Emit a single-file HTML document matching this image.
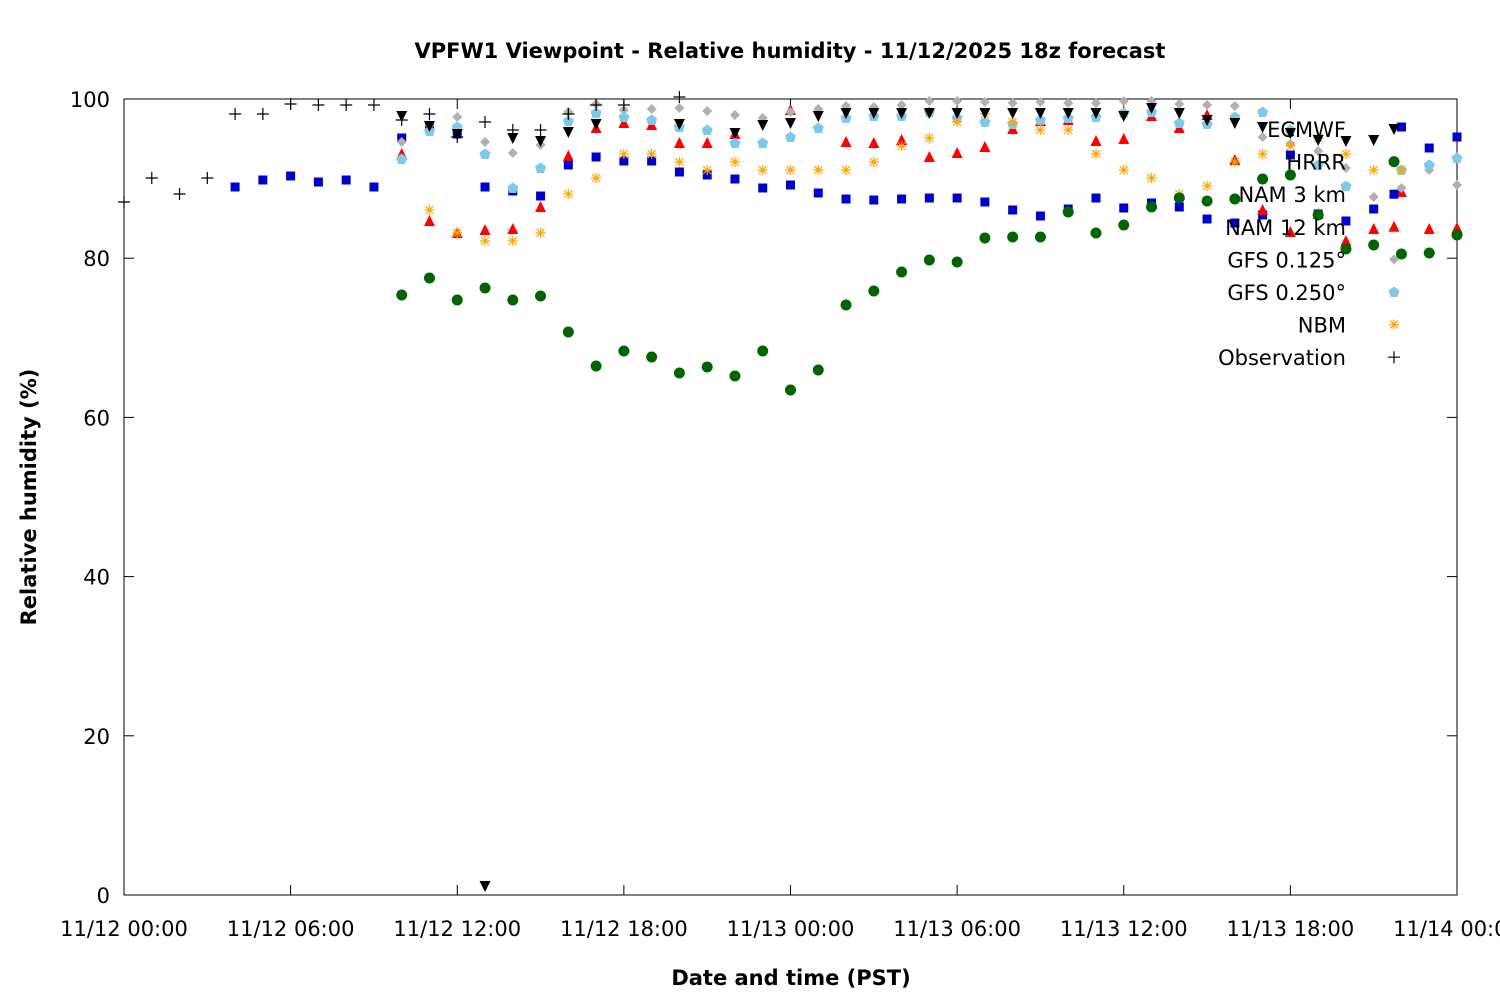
<!DOCTYPE html>
<html><head><meta charset="utf-8"><style>body{margin:0;background:#fff}svg{display:block}text{font-family:"DejaVu Sans","Liberation Sans",sans-serif}</style></head>
<body><svg id="s" width="1500" height="1000" xmlns="http://www.w3.org/2000/svg">
<text x="790" y="58" font-size="21" font-weight="bold" text-anchor="middle">VPFW1 Viewpoint - Relative humidity - 11/12/2025 18z forecast</text>
<text x="791" y="985" font-size="21" font-weight="bold" text-anchor="middle">Date and time (PST)</text>
<text transform="translate(36,497) rotate(-90)" font-size="21" font-weight="bold" text-anchor="middle">Relative humidity (%)</text>
<rect x="124" y="99" width="1333" height="796" fill="none" stroke="#000" stroke-width="1"/>
<g id="g"></g>
</svg>
<script>
var g=document.getElementById('g'),h='';
function X(i){return 124+i*1333/48}
for(var v=0;v<=100;v+=20){var y=895-v*7.96;h+='<line x1="124" x2="134" y1="'+y+'" y2="'+y+'" stroke="#000"/><line x1="1447" x2="1457" y1="'+y+'" y2="'+y+'" stroke="#000"/><text x="110" y="'+(y+8)+'" font-size="21" text-anchor="end">'+v+'</text>';}
var labs=['11/12 00:00','11/12 06:00','11/12 12:00','11/12 18:00','11/13 00:00','11/13 06:00','11/13 12:00','11/13 18:00','11/14 00:00'];
for(var k=0;k<9;k++){var x=X(k*6);h+='<line x1="'+x+'" x2="'+x+'" y1="895" y2="885" stroke="#000"/><line x1="'+x+'" x2="'+x+'" y1="99" y2="109" stroke="#000"/><text x="'+x+'" y="936" font-size="21" text-anchor="middle">'+labs[k]+'</text>';}
function mk(t,c,x,y){
 if(t=='sq')return '<rect x="'+(x-4.5)+'" y="'+(y-4.5)+'" width="9" height="9" fill="'+c+'"/>';
 if(t=='ci')return '<circle cx="'+x+'" cy="'+y+'" r="5.5" fill="'+c+'"/>';
 if(t=='up')return '<polygon points="'+(x-5.5)+','+(y+5)+' '+(x+5.5)+','+(y+5)+' '+x+','+(y-6)+'" fill="'+c+'"/>';
 if(t=='dn')return '<polygon points="'+(x-5.5)+','+(y-5)+' '+(x+5.5)+','+(y-5)+' '+x+','+(y+6)+'" fill="'+c+'"/>';
 if(t=='di')return '<polygon points="'+(x-5)+','+y+' '+x+','+(y-5)+' '+(x+5)+','+y+' '+x+','+(y+5)+'" fill="'+c+'"/>';
 if(t=='pe')return '<polygon points="'+x+','+(y-5.5)+' '+(x+5.5)+','+(y-1.5)+' '+(x+3.5)+','+(y+5)+' '+(x-3.5)+','+(y+5)+' '+(x-5.5)+','+(y-1.5)+'" fill="'+c+'"/>';
 if(t=='as')return '<path d="M'+(x-5)+' '+y+'H'+(x+5)+'M'+x+' '+(y-5)+'V'+(y+5)+'M'+(x-4)+' '+(y-4)+'L'+(x+4)+' '+(y+4)+'M'+(x-4)+' '+(y+4)+'L'+(x+4)+' '+(y-4)+'" stroke="'+c+'" stroke-width="1.2"/>';
 if(t=='pl')return '<path d="M'+(x-6)+' '+y+'H'+(x+6)+'M'+x+' '+(y-6)+'V'+(y+6)+'" stroke="'+c+'" stroke-width="1.2"/>';
}
function ser(t,c,start,arr){for(var i=0;i<arr.length;i++)if(arr[i])h+=mk(t,c,X(start+i),arr[i]);}
ser('sq','#0000cc',4,[187,180,176,182,180,187,138,128,134,187,191,196,165,157,161,161,172,175,179,188,185,193,199,200,199,198,198,202,210,216,209,198,208,203,207,219,223,215,155,214,221,209,127,148,137]);
ser('up','#ff0000',10,[154,221,233,230,229,207,156,128,123,125,143,143,134,0,110,0,142,143,140,157,153,147,129,121,120,141,139,116,128,115,160,210,232,214,241,229,192,229,228]);
ser('di','#b0b0b0',10,[142,125,117,142,153,145,112,104,110,109,108,111,115,118,112,109,106,107,105,101,101,102,103,102,103,103,101,101,104,105,106,137,144,151,168,197,188,170,185]);
ser('pe','#7ec8ea',10,[159,131,127,154,188,168,121,113,117,120,127,130,143,143,137,128,118,116,116,112,118,122,124,120,118,117,113,112,123,124,117,112,130,165,186,0,170,165,158]);
ser('as','#ffa500',11,[210,233,241,241,233,194,178,154,154,162,170,162,170,170,170,170,162,146,138,122,114,122,130,130,154,170,178,194,186,162,154,146,138,154,170,170]);
ser('dn','#000',10,[116,126,134,886,138,141,132,124,0,0,124,0,133,125,123,116,113,113,113,113,113,113,113,113,113,113,116,108,113,120,123,127,133,140,141,140]);
ser('ci','#006400',10,[295,278,300,288,300,296,332,366,351,357,373,367,376,351,390,370,305,291,272,260,262,238,237,237,212,233,225,207,198,201,199,179,175,215,249,245,254,253,235]);
ser('pl','#000',0,[202,178,194,178,114,114,104,105,105,105,120,114,137,122,130,130,114,105,105,0,97]);
var L=[['ECMWF','dn','#000'],['HRRR','ci','#006400'],['NAM 3 km','sq','#0000cc'],['NAM 12 km','up','#ff0000'],['GFS 0.125°','di','#b0b0b0'],['GFS 0.250°','pe','#7ec8ea'],['NBM','as','#ffa500'],['Observation','pl','#000']];
for(var j=0;j<L.length;j++){var y=129+j*32.6;h+='<text x="1346" y="'+(y+8)+'" font-size="21" text-anchor="end">'+L[j][0]+'</text>'+mk(L[j][1],L[j][2],1394,y);}
g.innerHTML=h;
</script></body></html>
